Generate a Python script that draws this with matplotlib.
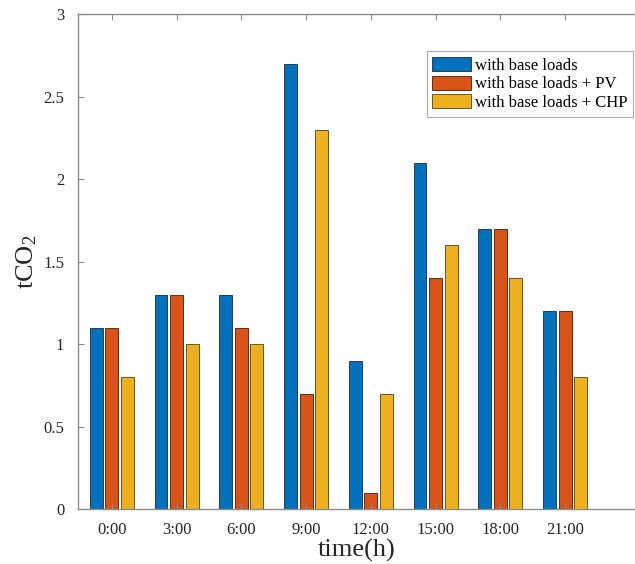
import matplotlib
matplotlib.use("Agg")
import matplotlib.pyplot as plt
import numpy as np

categories = ["0:00", "3:00", "6:00", "9:00", "12:00", "15:00", "18:00", "21:00"]
base = [1.1, 1.3, 1.3, 2.7, 0.9, 2.1, 1.7, 1.2]
base_pv = [1.1, 1.3, 1.1, 0.7, 0.1, 1.4, 1.7, 1.2]
base_chp = [0.8, 1.0, 1.0, 2.3, 0.7, 1.6, 1.4, 0.8]
series_names = ["with base loads", "with base loads + PV", "with base loads + CHP"]
yticks = [0, 0.5, 1, 1.5, 2, 2.5, 3]
ytick_labels = ["0", "0.5", "1", "1.5", "2", "2.5", "3"]

plt.rcParams['font.family'] = ['Liberation Serif', 'DejaVu Serif']
plt.rcParams['mathtext.fontset'] = 'custom'
plt.rcParams['mathtext.rm'] = 'Liberation Serif'
plt.rcParams['mathtext.it'] = 'Liberation Serif'

fig = plt.figure(figsize=(6.35, 5.64), dpi=100)
ax = fig.add_axes([0.123, 0.0975, 0.877, 0.8775])

x = np.arange(1, len(categories) + 1)
colors = ["#0072BD", "#D95319", "#EDB120"]
edges = ["#1a2a3a", "#4a1a0a", "#5a4010"]
offsets = [-0.24, 0.0, 0.24]
width = 0.2
for vals, c, e, off, name in zip([base, base_pv, base_chp], colors, edges, offsets, series_names):
    ax.bar(x + off, vals, width=width, color=c, edgecolor=e, linewidth=0.6, label=name)

ax.set_xlim(0.48, 9.08)
ax.set_ylim(0, 3)
ax.set_xticks(x)
ax.set_xticklabels(categories, fontsize=12)
ax.set_yticks(yticks)
ax.set_yticklabels(ytick_labels, fontsize=12)

spine_color = "#8c8c8c"
for s in ["left", "bottom", "top"]:
    ax.spines[s].set_color(spine_color)
    ax.spines[s].set_linewidth(1.0)
ax.spines["right"].set_visible(False)
ax.tick_params(axis="both", direction="in", color=spine_color, length=4, top=True, right=False, labelcolor="#262626")
ax.tick_params(axis="y", pad=10)
ax.tick_params(axis="x", pad=9)

ax.set_xlabel("time(h)", fontsize=19, color="#262626", labelpad=1)
ax.set_ylabel("tCO$_2$", fontsize=19, color="#262626", labelpad=3)

leg = ax.legend(loc="upper right", bbox_to_anchor=(0.997, 0.925), fontsize=12, frameon=True,
                fancybox=False, edgecolor="#999999", handlelength=2.3, handleheight=0.9,
                handletextpad=0.25, borderpad=0.35, labelspacing=0.12, borderaxespad=0)
leg.get_frame().set_linewidth(0.8)

fig.savefig("out.png", dpi=100)
